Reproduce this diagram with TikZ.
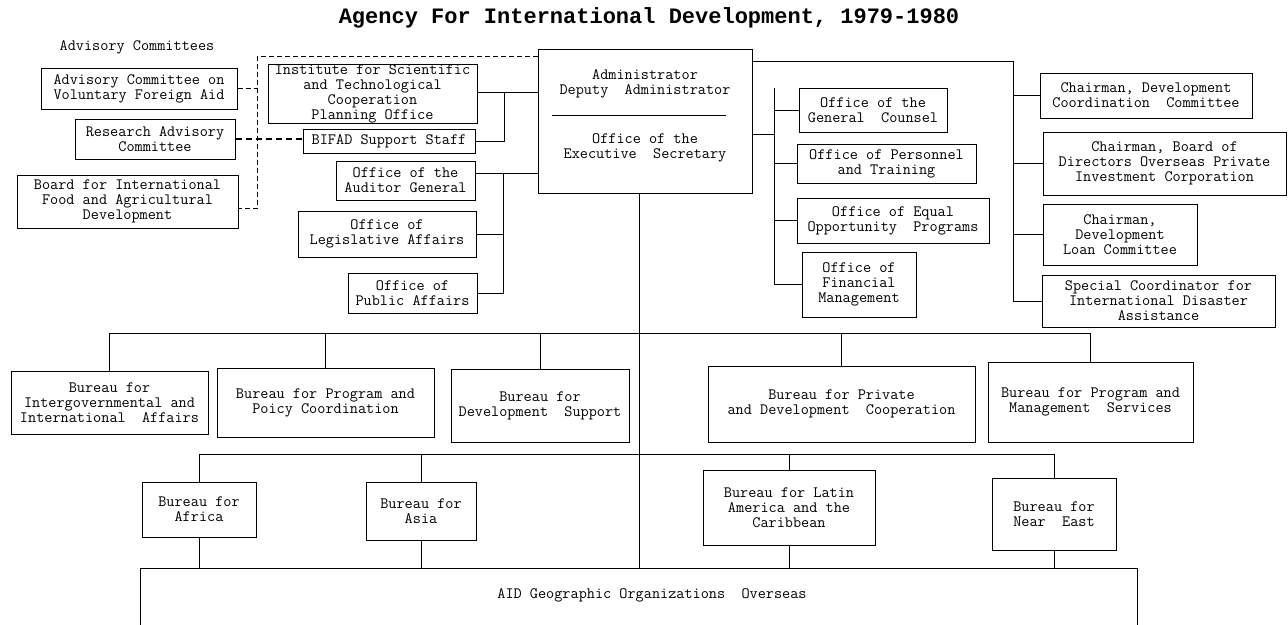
\documentclass[tikz,border=0pt]{standalone}
\usepackage{fontspec}
\setmainfont{Liberation Mono}
\newfontfamily\orgtitlefamily{Liberation Mono}
\newcommand\orgfont{\ttfamily\fontsize{15.8}{15}\selectfont}
\newcommand\orgtitlefont{\orgtitlefamily\fontsize{22}{26}\selectfont\bfseries}
\begin{document}
\begin{tikzpicture}[x=1pt,y=-1pt,
  box/.style={draw, line width=1pt, inner sep=0pt, align=center, font=\orgfont},
  txt/.style={inner sep=0pt, align=center, font=\orgfont},
  link/.style={line width=0.9pt},
  advlink/.style={line width=1pt, dash pattern=on 5pt off 3pt},
  advlinkthick/.style={line width=2pt, dash pattern=on 6pt off 4pt}]
\useasboundingbox (0,0) rectangle (1288,624);
\clip (0,0) rectangle (1288,624);

% title and heading
\node[inner sep=0pt, font=\orgtitlefont] (title) at (649,18) {Agency For International Development, 1979-1980};
\node[txt] (advhead) at (137,47) {Advisory Committees};

% advisory committees
\node[box, minimum width=196pt, minimum height=41pt] (acvfa) at (139,88.5) {Advisory Committee on\\Voluntary Foreign Aid};
\node[box, minimum width=160pt, minimum height=40pt] (rac) at (155,139) {Research Advisory\\Committee};
\node[box, minimum width=221pt, minimum height=53pt] (bifad) at (127.5,201.5) {Board for International\\Food and Agricultural\\Development};

% staff offices to the left of the Administrator
\node[box, minimum width=209pt, minimum height=59pt] (inst) at (372.5,93.5) {Institute for Scientific\\and Technological\\Cooperation\\Planning Office};
\node[box, minimum width=172pt, minimum height=24pt] (bstaff) at (389,141) {BIFAD Support Staff};
\node[box, minimum width=139pt, minimum height=39pt] (audit) at (405.5,180.5) {Office of the\\Auditor General};
\node[box, minimum width=178pt, minimum height=46pt] (legis) at (387,234) {Office of\\Legislative Affairs};
\node[box, minimum width=129pt, minimum height=40pt] (pubaff) at (412.5,293) {Office of\\Public Affairs};

% Administrator
\node[box, minimum width=214pt, minimum height=144pt] (admin) at (645,121) {};
\node[txt] (admintop) at (645,84) {Administrator\\Deputy~ Administrator};
\node[txt] (adminbot) at (645,148) {Office of the\\Executive~ Secretary};
\draw[link] ([xshift=14pt,yshift=6pt]admin.west) -- ([xshift=-27pt,yshift=6pt]admin.east);

% staff offices to the right of the Administrator
\node[box, minimum width=148pt, minimum height=44pt] (gc) at (873,110) {Office of the\\General~ Counsel};
\node[box, minimum width=179pt, minimum height=39pt] (pers) at (886.5,163.5) {Office of Personnel\\and Training};
\node[box, minimum width=192pt, minimum height=45pt] (eeo) at (893,220.5) {Office of Equal\\Opportunity~ Programs};
\node[box, minimum width=114pt, minimum height=65pt] (fin) at (859,284.5) {Office of\\Financial\\Management};

% chairmen and coordinators
\node[box, minimum width=212pt, minimum height=45pt] (dcc) at (1146,95.5) {Chairman, Development\\Coordination~ Committee};
\node[box, minimum width=243pt, minimum height=63pt] (opic) at (1164.5,163.5) {Chairman, Board of\\Directors Overseas Private\\Investment Corporation};
\node[box, minimum width=154pt, minimum height=61pt] (dlc) at (1120,234.5) {Chairman,\\Development\\Loan Committee};
\node[box, minimum width=233pt, minimum height=52pt] (ofda) at (1158.5,301) {Special Coordinator for\\International Disaster\\Assistance};

% functional bureaus
\node[box, minimum width=197pt, minimum height=63pt] (bia) at (109.5,402.5) {Bureau for\\Intergovernmental and\\International~ Affairs};
\node[box, minimum width=217pt, minimum height=69pt] (bppc) at (325.5,402.5) {Bureau for Program and\\Poicy Coordination};
\node[box, minimum width=178pt, minimum height=73pt] (bds) at (540,405.5) {Bureau for\\Development~ Support};
\node[box, minimum width=267pt, minimum height=76pt] (bpdc) at (841.5,404) {Bureau for Private\\and Development~ Cooperation};
\node[box, minimum width=205pt, minimum height=80pt] (bpms) at (1090.5,402) {Bureau for Program and\\Management~ Services};

% regional bureaus
\node[box, minimum width=114pt, minimum height=55pt] (afr) at (199,509.5) {Bureau for\\Africa};
\node[box, minimum width=110pt, minimum height=58pt] (asia) at (421,511) {Bureau for\\Asia};
\node[box, minimum width=172pt, minimum height=75pt] (latam) at (789,507.5) {Bureau for Latin\\America and the\\Caribbean};
\node[box, minimum width=124pt, minimum height=72pt] (neast) at (1054,514) {Bureau for\\Near~ East};

% overseas organizations
\node[box, minimum width=997pt, minimum height=132pt] (geo) at (638.5,634) {};
\node[txt] (geotext) at (652,595) {AID Geographic Organizations~ Overseas};

% junction points
\coordinate (dvtop) at (257,56);
\coordinate (dvbot) at (257,208);
\coordinate (jinst) at (504,92);
\coordinate (jaud) at (503,173);
\coordinate (jright) at (774,134);
\coordinate (jchair) at (1013,61);
\coordinate (adminline) at (639,0);
\coordinate (bus2) at (0,333);
\coordinate (bus3) at (0,454);

% advisory links (dashed)
\draw[advlink] (admin.west |- dvtop) -- (dvtop) -- (dvbot) -- (bifad.east |- dvbot);
\draw[advlink] (acvfa.east) -- (acvfa.east -| dvtop);
\draw[advlinkthick] (rac.east) -- (rac.east -| bstaff.west);

% left staff links
\draw[link] (inst.east |- jinst) -- (admin.west |- jinst);
\draw[link] (bstaff.east) -| (jinst);
\draw[link] (audit.east |- jaud) -- (admin.west |- jaud);
\draw[link] (legis.east) -| (jaud);
\draw[link] (pubaff.east) -| (jaud);

% right staff links
\draw[link] (admin.east |- jright) -- (jright);
\draw[link] (jright |- gc.north) -- (jright |- fin.west);
\draw[link] (gc.west) -- (gc.west -| jright);
\draw[link] (pers.west) -- (pers.west -| jright);
\draw[link] (eeo.west) -- (eeo.west -| jright);
\draw[link] (fin.west) -- (fin.west -| jright);

% chairmen links
\draw[link] (admin.east |- jchair) -- (jchair) -- (jchair |- ofda.west);
\draw[link] (dcc.west) -- (dcc.west -| jchair);
\draw[link] (opic.west) -- (opic.west -| jchair);
\draw[link] (dlc.west) -- (dlc.west -| jchair);
\draw[link] (ofda.west) -- (ofda.west -| jchair);

% main line of authority
\draw[link] (admin.south -| adminline) -- (geo.north -| adminline);

% functional bureau bus
\draw[link] (bia.north |- bus2) -- (bpms.north |- bus2);
\foreach \b in {bia,bppc,bds,bpdc,bpms}
  \draw[link] (\b.north) -- (\b.north |- bus2);

% regional bureau bus
\draw[link] (afr.north |- bus3) -- (neast.north |- bus3);
\foreach \b in {afr,asia,latam,neast}{
  \draw[link] (\b.north) -- (\b.north |- bus3);
  \draw[link] (\b.south) -- (\b.south |- geo.north);
}
\end{tikzpicture}
\end{document}
